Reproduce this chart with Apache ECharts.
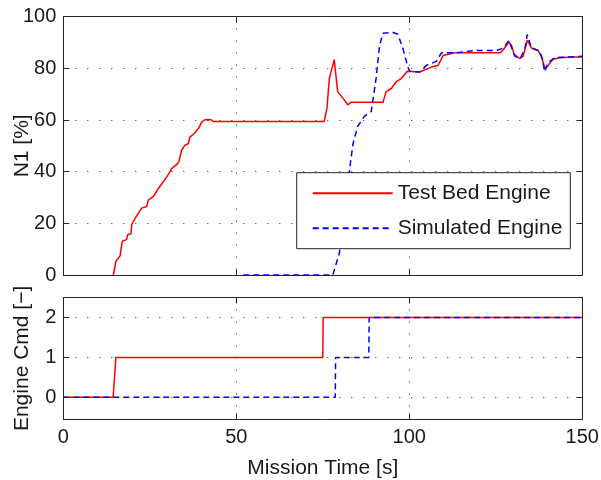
<!DOCTYPE html>
<html>
<head>
<meta charset="utf-8">
<script src="https://cdn.jsdelivr.net/npm/echarts@6/dist/echarts.min.js"></script>
<style>
  html, body { margin: 0; padding: 0; background: #fff; }
  #chart { width: 601px; height: 480px; }
</style>
</head>
<body>
<div id="chart"></div>
<script>
// N1 trace, test bed engine (time [s], N1 [%])
var testBedTime = [14.46, 15.23, 16.39, 17.06, 18.31, 18.6, 19.57, 19.76, 21.2, 22.65, 24.1, 24.6, 26.0, 27.47, 28.9, 29.9, 30.8, 31.3,
  32.8, 33.4, 34.2, 35.1, 36.1, 36.6, 37.9, 39.0, 40.0, 40.95, 42.7, 43.4,
  75.4, 76.2, 76.9, 78.3, 79.3, 81.2, 82.2, 83.2, 92.4, 93.3, 94.8, 96.2, 97.7, 99.4, 103.0, 106.4, 108.3, 109.8, 110.8, 113.3,
  126.3, 127.2, 128.8, 129.6, 130.3, 132.0, 132.9, 134.1, 135.3, 137.2, 138.2, 139.1, 139.8, 141.5, 143.4, 147.3, 150];
var testBedN1 = [0, 5.4, 7.3, 13.1, 13.7, 15.6, 16.0, 19.5, 22.9, 25.9, 26.5, 29.1, 30.3, 33.5, 36.1, 38.0, 39.9, 41.2,
  42.8, 43.8, 48.3, 50.2, 50.8, 53.4, 54.9, 56.6, 59.2, 60.1, 60.1, 59.4,
  59.4, 64.6, 76.1, 83.4, 71.0, 67.8, 65.9, 66.9, 66.9, 71.0, 72.2, 74.8, 76.1, 78.9, 78.6, 80.5, 81.1, 85.0, 85.4, 86.0,
  86.0, 87.3, 90.2, 88.6, 85.4, 83.8, 84.7, 90.9, 87.9, 86.9, 84.7, 80.3, 80.5, 83.5, 84.1, 84.4, 84.4];

// N1 trace, simulated engine
var simTime = [52, 77.9, 79.8, 82.7, 83.7, 85.1, 87.0, 89.0, 90.4, 91.4, 92.4, 95.3, 96.7, 98.2, 99.6, 100.1, 103.0, 104.9, 107.8,
  109.3, 113.3, 118.6, 125.3, 127.2, 128.8, 130.5, 132.0, 133.4, 134.1, 135.3, 137.7, 138.6, 139.1, 140.1, 142.0, 150];
var simN1 = [0, 0, 8.5, 40.4, 50.6, 57.6, 61.4, 63.3, 76.1, 88.8, 93.6, 93.9, 93.2, 87.5, 80.5, 78.9, 78.6, 81.1, 82.7,
  86.0, 86.0, 86.9, 86.9, 87.9, 90.8, 84.7, 83.8, 87.3, 93.1, 87.9, 86.7, 82.8, 78.7, 82.2, 84.1, 84.7];

// engine command steps
var testBedCmdTime = [0, 14.4, 15.2, 75.0, 75.1, 150];
var testBedCmd = [0, 0, 1, 1, 2, 2];
var simCmdTime = [0, 78.6, 78.7, 88.3, 88.4, 150];
var simCmd = [0, 0, 1, 1, 2, 2];

var cmdTicks = [0, 1, 2];

function zip(xs, ys) {
  return xs.map(function (x, i) { return [x, ys[i]]; });
}

var font = '"Liberation Sans", Arial, Helvetica, sans-serif';
var ink = '#1a1a1a';
var frame = '#262626';
var dotted = { show: true, lineStyle: { color: '#222', width: 1, type: [1, 11] } };

function boxAxis(extra) {
  return Object.assign({
    axisLine: { show: true, onZero: false, lineStyle: { color: frame, width: 1 } },
    axisTick: { show: true, inside: true, length: 6, lineStyle: { color: frame } },
    axisLabel: { show: false },
    splitLine: { show: false },
    nameMoveOverlap: false
  }, extra);
}

var chart = echarts.init(document.getElementById('chart'));
chart.setOption({
  animation: false,
  backgroundColor: '#fff',
  textStyle: { fontFamily: font },
  grid: [
    { left: 63.3, top: 16.7, width: 519, height: 258.3, outerBoundsMode: 'none', containLabel: false },
    { left: 63.3, top: 297.5, width: 519, height: 121.8, outerBoundsMode: 'none', containLabel: false }
  ],
  legend: {
    data: ['Test Bed Engine', 'Simulated Engine'],
    orient: 'vertical',
    left: 296.7,
    top: 172.7,
    itemWidth: 80,
    itemHeight: 20,
    itemGap: 14,
    padding: [10, 8, 10, 15],
    backgroundColor: '#fff',
    borderColor: frame,
    borderWidth: 1,
    itemStyle: { color: 'rgba(0,0,0,0)', borderWidth: 0 },
    textStyle: { fontSize: 21, color: ink, fontFamily: font }
  },
  xAxis: [
    boxAxis({ gridIndex: 0, type: 'value', min: 0, max: 150, interval: 50, position: 'bottom', splitLine: dotted }),
    boxAxis({ gridIndex: 0, type: 'value', min: 0, max: 150, interval: 50, position: 'top' }),
    boxAxis({
      gridIndex: 1, type: 'value', min: 0, max: 150, interval: 50, position: 'bottom', splitLine: dotted,
      axisLabel: { show: true, fontSize: 20, color: ink, margin: 8, fontFamily: font },
      name: 'Mission Time [s]', nameLocation: 'middle', nameGap: 38,
      nameTextStyle: { fontSize: 21, color: ink, fontFamily: font }
    }),
    boxAxis({ gridIndex: 1, type: 'value', min: 0, max: 150, interval: 50, position: 'top' })
  ],
  yAxis: [
    boxAxis({
      gridIndex: 0, type: 'value', min: 0, max: 100, interval: 20, position: 'left', splitLine: dotted,
      axisLabel: { show: true, fontSize: 20, color: ink, margin: 7, fontFamily: font },
      name: 'N1 [%]', nameLocation: 'middle', nameGap: 31,
      nameTextStyle: { fontSize: 21, color: ink, fontFamily: font }
    }),
    boxAxis({ gridIndex: 0, type: 'value', min: 0, max: 100, interval: 20, position: 'right' }),
    boxAxis({
      gridIndex: 1, type: 'value', min: -0.55, max: 2.5, position: 'left', splitLine: dotted,
      axisTick: { show: true, inside: true, length: 6, lineStyle: { color: frame }, customValues: cmdTicks },
      axisLabel: { show: true, fontSize: 20, color: ink, margin: 7, fontFamily: font, customValues: cmdTicks },
      name: 'Engine Cmd [\u2212]', nameLocation: 'middle', nameGap: 31,
      nameTextStyle: { fontSize: 21, color: ink, fontFamily: font }
    }),
    boxAxis({
      gridIndex: 1, type: 'value', min: -0.55, max: 2.5, position: 'right',
      axisTick: { show: true, inside: true, length: 6, lineStyle: { color: frame }, customValues: cmdTicks }
    })
  ],
  series: [
    {
      name: 'Test Bed Engine', type: 'line', xAxisIndex: 0, yAxisIndex: 0, symbol: 'none',
      data: zip(testBedTime, testBedN1),
      lineStyle: { color: '#ff0000', width: 1.5 }, itemStyle: { color: '#ff0000' }
    },
    {
      name: 'Simulated Engine', type: 'line', xAxisIndex: 0, yAxisIndex: 0, symbol: 'none',
      data: zip(simTime, simN1),
      lineStyle: { color: '#0000ff', width: 1.5, type: [6, 4] }, itemStyle: { color: '#0000ff' }
    },
    {
      name: 'Test Bed Engine', type: 'line', xAxisIndex: 2, yAxisIndex: 2, symbol: 'none',
      data: zip(testBedCmdTime, testBedCmd),
      lineStyle: { color: '#ff0000', width: 1.5 }, itemStyle: { color: '#ff0000' }
    },
    {
      name: 'Simulated Engine', type: 'line', xAxisIndex: 2, yAxisIndex: 2, symbol: 'none',
      data: zip(simCmdTime, simCmd),
      lineStyle: { color: '#0000ff', width: 1.5, type: [6, 4] }, itemStyle: { color: '#0000ff' }
    }
  ]
});
</script>
</body>
</html>
